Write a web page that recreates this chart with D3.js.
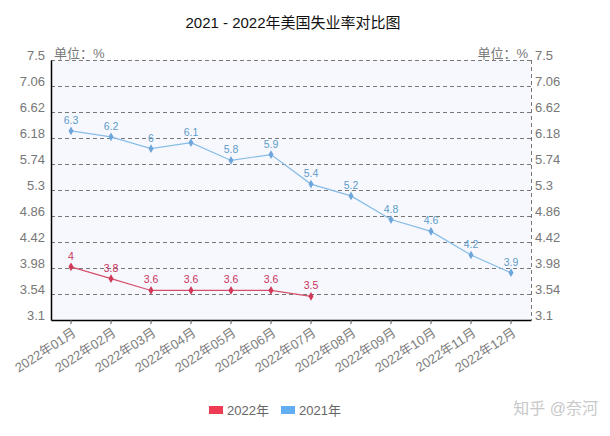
<!DOCTYPE html>
<html><head><meta charset="utf-8">
<script src="https://cdn.jsdelivr.net/npm/d3@7"></script>
<style>
body{margin:0;background:#fff;}
text{font-family:"Liberation Sans","Noto Sans CJK SC",sans-serif;}
</style></head>
<body><svg id="c" width="610" height="436"></svg>
<script>
const categories = ["2022年01月","2022年02月","2022年03月","2022年04月","2022年05月","2022年06月","2022年07月","2022年08月","2022年09月","2022年10月","2022年11月","2022年12月"];
const values2022 = [4, 3.8, 3.6, 3.6, 3.6, 3.6, 3.5];
const values2021 = [6.3, 6.2, 6, 6.1, 5.8, 5.9, 5.4, 5.2, 4.8, 4.6, 4.2, 3.9];
const yTicks = [3.1, 3.54, 3.98, 4.42, 4.86, 5.3, 5.74, 6.18, 6.62, 7.06, 7.5];
const seriesNames = ["2022年", "2021年"];
const titleText = "2021 - 2022年美国失业率对比图";
const unitText = "单位：%";
const watermark = "知乎 @奈河";

const svg = d3.select("#c");
const L = 51, R = 531, T = 60, B = 320;
const x = d3.scaleBand().domain(categories).range([L, R]);
const y = d3.scaleLinear().domain([3.1, 7.5]).range([B, T]);
const cx = d => x(d) + x.bandwidth() / 2;

svg.append("text").attr("x", 293).attr("y", 28).attr("text-anchor", "middle")
  .attr("font-size", 15).attr("fill", "#111").text(titleText);

svg.append("rect").attr("x", L).attr("y", T).attr("width", R - L).attr("height", B - T).attr("fill", "#f7f8fe");

// gridlines
svg.append("g").selectAll("line").data(yTicks.slice(1)).join("line")
  .attr("x1", L).attr("x2", R).attr("y1", d => y(d)).attr("y2", d => y(d))
  .attr("stroke", "#777").attr("stroke-dasharray", "4,3").attr("shape-rendering", "crispEdges");
svg.append("line").attr("x1", R).attr("x2", R).attr("y1", T).attr("y2", B)
  .attr("stroke", "#777").attr("stroke-dasharray", "4,3").attr("shape-rendering", "crispEdges");

// left axis
const yl = svg.append("g").attr("transform", `translate(${L},0)`)
  .call(d3.axisLeft(y).tickValues(yTicks).tickSize(0).tickPadding(6).tickFormat(d => String(d)));
yl.select(".domain").attr("stroke", "#000").attr("stroke-width", 1.5);
yl.selectAll("text").attr("font-size", 13).attr("fill", "#777").attr("dy", "-0.05em").attr("font-family", "Liberation Sans");
const yr = svg.append("g").attr("transform", `translate(${R},0)`)
  .call(d3.axisRight(y).tickValues(yTicks).tickSize(0).tickPadding(4).tickFormat(d => String(d)));
yr.select(".domain").remove();
yr.selectAll("text").attr("font-size", 13).attr("fill", "#777").attr("dy", "-0.05em").attr("font-family", "Liberation Sans");

svg.append("text").attr("x", L + 3).attr("y", T - 2).attr("font-size", 13).attr("fill", "#777").text(unitText);
svg.append("text").attr("x", R - 3).attr("y", T - 2).attr("text-anchor", "end").attr("font-size", 13).attr("fill", "#777").text(unitText);

// bottom axis
const xa = svg.append("g").attr("transform", `translate(0,${B})`)
  .call(d3.axisBottom(x).tickSize(4).tickSizeOuter(0));
xa.select(".domain").attr("stroke", "#000").attr("stroke-width", 1.5);
xa.selectAll(".tick line").attr("stroke", "#555");
xa.selectAll("text").attr("font-size", 13).attr("fill", "#808080")
  .attr("text-anchor", "end").attr("dy", 0).attr("y", 0)
  .attr("transform", "translate(6,15) rotate(-33)");

function drawSeries(vals, lineColor, ptColor, labelColor) {
  const data = vals.map((v, i) => ({c: categories[i], v}));
  svg.append("path").datum(data)
    .attr("d", d3.line().x(d => cx(d.c)).y(d => y(d.v)))
    .attr("fill", "none").attr("stroke", lineColor).attr("stroke-width", 1.2);
  svg.append("g").selectAll("path").data(data).join("path")
    .attr("d", d3.symbol(d3.symbolDiamond, 22))
    .attr("transform", d => `translate(${cx(d.c)},${y(d.v)})`)
    .attr("fill", ptColor);
  svg.append("g").selectAll("text").data(data).join("text")
    .attr("x", d => cx(d.c)).attr("y", d => y(d.v) - 7)
    .attr("text-anchor", "middle").attr("font-size", 10.5).attr("fill", labelColor)
    .text(d => String(d.v));
}
drawSeries(values2021, "#86bce6", "#6ea6da", "#5d9cc9");
drawSeries(values2022, "#d4506a", "#d03a58", "#c8345a");

// legend
const legColors = ["#ee3a52", "#63aef2"];
const legX = [209, 281];
seriesNames.forEach((n, i) => {
  svg.append("rect").attr("x", legX[i]).attr("y", 406).attr("width", 14).attr("height", 8).attr("fill", legColors[i]);
  svg.append("text").attr("x", legX[i] + 18).attr("y", 414.5).attr("font-size", 13).attr("fill", "#666").text(n);
});

svg.append("text").attr("x", 598).attr("y", 414).attr("text-anchor", "end")
  .attr("font-size", 16).attr("fill", "#c8c8c8").text(watermark);
</script></body></html>
